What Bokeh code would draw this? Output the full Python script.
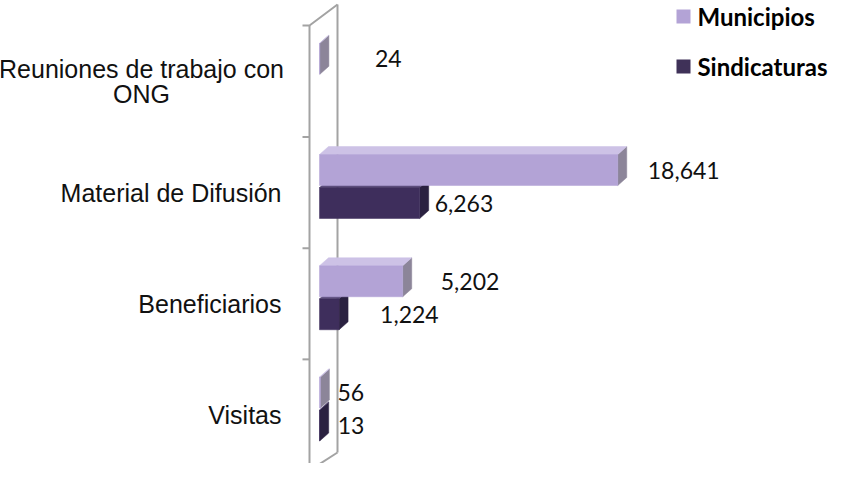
from bokeh.plotting import figure
from bokeh.models import Range1d, ColumnDataSource
from bokeh.core.properties import value
from bokeh.embed import file_html
from bokeh.resources import INLINE
import math

# ---------------- data ----------------
categories = ["Reuniones de trabajo con\nONG", "Material de Difusión", "Beneficiarios", "Visitas"]
series_names = ["Municipios", "Sindicaturas"]
municipios = [24, 18641, 5202, 56]
sindicaturas = [float("nan"), 6263, 1224, 13]

# ---------------- layout helpers (pixels of the page) ----------------
K = 0.016          # px per unit on the value axis
X0 = 327           # page x of value 0
ROW = 111.25       # px per category
Y0 = 422.5         # page y of the bottom category centre
W, H = 828, 463

def xpx(px):
    return (px - X0) / K

def ypx(py):
    return (Y0 - py) / ROW

DX = 9 / K          # 3D depth, horizontal
DY = 8 / ROW        # 3D depth, vertical
HALF = 15.5 / ROW   # half height of bar front
OFF_M = 22.5 / ROW  # municipios shift up from category centre
OFF_S = -10.5 / ROW # sindicaturas shift down

n = len(categories)
ycent = [n - 1 - i for i in range(n)]

p = figure(width=W, height=H, output_backend="svg", toolbar_location=None,
           x_range=Range1d(xpx(8), xpx(8 + W)), y_range=Range1d(ypx(8 + H), ypx(8)),
           x_axis_location=None, y_axis_location=None, min_border=0)
p.min_border_left = p.min_border_right = p.min_border_top = p.min_border_bottom = 0
p.xgrid.visible = False
p.ygrid.visible = False
p.outline_line_color = None
p.background_fill_color = "white"

# ---------------- axis wall ----------------
wall_col = "#a3a3a3"
wx = [[xpx(317), xpx(317)], [xpx(345), xpx(345)], [xpx(310), xpx(317), xpx(345)], [xpx(317), xpx(345)]]
wy = [[ypx(33), ypx(478)], [ypx(12), ypx(460)], [ypx(33), ypx(33), ypx(12)], [ypx(478), ypx(460)]]
for b in range(n):
    yb = ycent[b] - 0.5
    wx.append([xpx(310), xpx(317)])
    wy.append([yb, yb])
p.multi_line(wx, wy, line_color=wall_col, line_width=2)

# ---------------- 3D bars ----------------
def bar_faces(vals, off, front, top, side):
    fl, fr, fb, ft = [], [], [], []
    txs, tys, sxs, sys_ = [], [], [], []
    for v, c in zip(vals, ycent):
        if v is None or (isinstance(v, float) and math.isnan(v)):
            continue
        yc = c + off
        b, t = yc - HALF, yc + HALF
        fl.append(0); fr.append(v); fb.append(b); ft.append(t)
        txs.append([0, v, v + DX, DX]); tys.append([t, t, t + DY, t + DY])
        sxs.append([v, v + DX, v + DX, v]); sys_.append([b, b + DY, t + DY, t])
    p.patches(sxs, sys_, fill_color=side, line_color=side, line_width=0.5)
    p.patches(txs, tys, fill_color=top, line_color=top, line_width=0.5)
    p.quad(left=fl, right=fr, bottom=fb, top=ft, fill_color=front, line_color=front, line_width=0.5)

mun_col = "#b3a3d6"
sin_col = "#3e2e5c"
bar_faces(sindicaturas, OFF_S, sin_col, "#5c4d7c", "#2a2140")
bar_faces(municipios, OFF_M, mun_col, "#cdc2e6", "#8c8599")

# ---------------- value labels ----------------
lab_font = value("Lato")
m_dx = [55, 30, 38, 17]
s_dx = [0, 15, 41, 18]
lx, ly, lt = [], [], []
for i, v in enumerate(municipios):
    lx.append(v + m_dx[i] / K); ly.append(ycent[i] + OFF_M); lt.append(f"{v:,}")
for i, v in enumerate(sindicaturas):
    if isinstance(v, float) and math.isnan(v):
        continue
    lx.append(v + s_dx[i] / K); ly.append(ycent[i] + OFF_S); lt.append(f"{int(v):,}")
p.text(lx, ly, text=lt, text_font=lab_font, text_font_size="23px",
       text_color="#111111", text_align="left", text_baseline="middle")

# ---------------- category labels ----------------
cat_font = value("Liberation Sans")
cx, cy, ct, ca = [], [], [], []
for i, lab in enumerate(categories):
    lines = lab.split("\n")
    if len(lines) == 1:
        cx.append(xpx(289)); cy.append(ycent[i]); ct.append(lab); ca.append("right")
    else:
        m = len(lines)
        for j, ln in enumerate(lines):
            cx.append(xpx(149)); cy.append(ycent[i] + ((m - 1) / 2 - j) * 25 / ROW)
            ct.append(ln); ca.append("center")
src = ColumnDataSource(dict(x=cx, y=cy, t=ct, a=ca))
p.text("x", "y", text="t", text_align="a", source=src, text_font=cat_font,
       text_font_size="25px", text_color="#111111", text_baseline="middle")

# ---------------- legend ----------------
leg_y = [ypx(24), ypx(74)]
p.rect([xpx(691)] * 2, leg_y, width=14, height=14, width_units="screen", height_units="screen",
       fill_color=[mun_col, "#3f3158"], line_color=None)
p.text([xpx(705)] * 2, leg_y, text=series_names, text_font=value("Lato"), text_font_style="bold",
       text_font_size="24px", text_color="#000000", text_align="left", text_baseline="middle")

open("out.html", "w").write(file_html(p, INLINE))
